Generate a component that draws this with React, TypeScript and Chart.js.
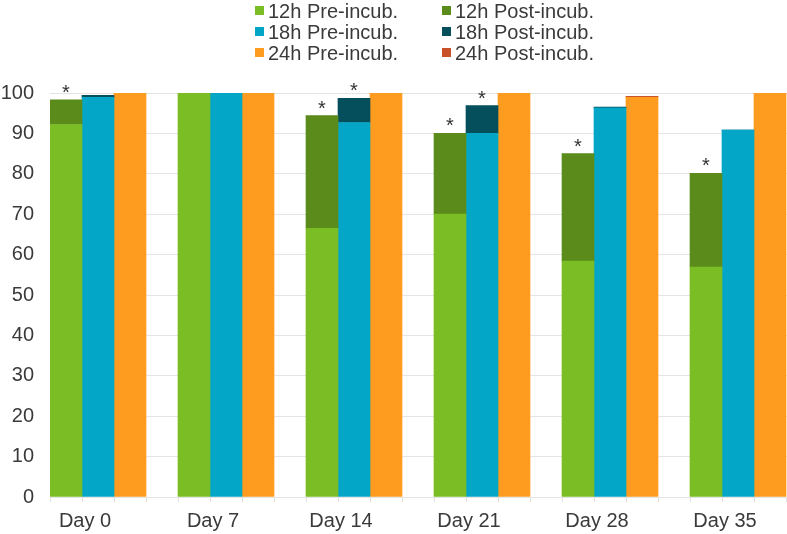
import React, { useEffect, useRef } from "react";
import { Chart, registerables } from "chart.js";

Chart.register(...registerables);

const categories = ["Day 0", "Day 7", "Day 14", "Day 21", "Day 28", "Day 35"];
const pre12 = [92.2, 100, 66.5, 70.0, 58.4, 56.9];
const post12 = [6.1, 0, 27.9, 20.0, 26.6, 23.2];
const pre18 = [98.9, 100, 92.7, 90.0, 96.3, 90.8];
const post18 = [0.5, 0, 6.0, 6.9, 0.2, 0];
const pre24 = [100, 100, 100, 100, 98.9, 100];
const post24 = [0, 0, 0, 0, 0.3, 0];
const star12 = [true, false, true, true, true, true];
const star18 = [false, false, true, true, false, false];
const yTicks = [0, 10, 20, 30, 40, 50, 60, 70, 80, 90, 100];

const seriesLabels = [
  "12h Pre-incub.",
  "12h Post-incub.",
  "18h Pre-incub.",
  "18h Post-incub.",
  "24h Pre-incub.",
  "24h Post-incub.",
];
const colors = ["#7abd25", "#5a8b1b", "#03a6c7", "#054f5d", "#fd9c1e", "#c9522b"];

const FONT = "'Liberation Sans', Arial, sans-serif";
const TEXT = "#3a3a3a";

const overlayPlugin = {
  id: "overlay",
  afterDraw(chart: any) {
    const ctx = chart.ctx;
    const x = chart.scales.x;
    const y = chart.scales.y;
    const area = chart.chartArea;
    ctx.save();
    // minor ticks under the axis at each bar slot edge
    const n = categories.length;
    const catW = (area.right - area.left) / n;
    ctx.strokeStyle = "#e2e2e2";
    ctx.lineWidth = 1;
    for (let i = 0; i < n; i++) {
      const c = x.getPixelForValue(i);
      for (let k = 0; k < 4; k++) {
        const px = Math.round(c - catW / 2 + (k * catW) / 4) + 0.5;
        ctx.beginPath();
        ctx.moveTo(px, area.bottom);
        ctx.lineTo(px, area.bottom + 5);
        ctx.stroke();
      }
    }
    // asterisks
    ctx.fillStyle = "#333";
    ctx.font = `20px ${FONT}`;
    ctx.textAlign = "center";
    ctx.textBaseline = "alphabetic";
    const m12 = chart.getDatasetMeta(0);
    const m18 = chart.getDatasetMeta(2);
    for (let i = 0; i < n; i++) {
      if (star12[i]) {
        const px = m12.data[i].x;
        const py = y.getPixelForValue(pre12[i] + post12[i]);
        ctx.fillText("*", px, py - 1);
      }
      if (star18[i]) {
        const px = m18.data[i].x;
        const py = y.getPixelForValue(pre18[i] + post18[i]);
        ctx.fillText("*", px, py - 1);
      }
    }
    // legend: two columns, three rows
    ctx.textAlign = "left";
    ctx.textBaseline = "middle";
    const colBox = [255, 442];
    const rowY = [11, 32, 53];
    for (let idx = 0; idx < seriesLabels.length; idx++) {
      const col = idx % 2;
      const row = Math.floor(idx / 2);
      ctx.fillStyle = colors[idx];
      ctx.fillRect(colBox[col], rowY[row] - 5, 9, 9);
      ctx.fillStyle = TEXT;
      ctx.fillText(seriesLabels[idx], colBox[col] + 13, rowY[row] + 1);
    }
    ctx.restore();
  },
};

export default function App() {
  const ref = useRef<HTMLCanvasElement | null>(null);
  useEffect(() => {
    if (!ref.current) return;
    const stacks = ["a", "a", "b", "b", "c", "c"];
    const values = [pre12, post12, pre18, post18, pre24, post24];
    const datasets: any[] = values.map((v, i) => ({
      label: seriesLabels[i],
      data: v,
      backgroundColor: colors[i],
      stack: stacks[i],
      borderWidth: 0,
      barPercentage: 1,
      categoryPercentage: 1,
    }));
    datasets.push({
      label: "",
      data: categories.map(() => 0),
      backgroundColor: "rgba(0,0,0,0)",
      stack: "d",
      borderWidth: 0,
      barPercentage: 1,
      categoryPercentage: 1,
    });
    const chart = new Chart(ref.current, {
      type: "bar",
      data: { labels: categories, datasets },
      options: {
        animation: false,
        responsive: false,
        layout: { padding: { top: 93, left: 0, right: 12, bottom: 0 } },
        plugins: {
          legend: { display: false },
          tooltip: { enabled: false },
        },
        scales: {
          x: {
            stacked: true,
            grid: { display: false, drawTicks: false },
            border: { display: false },
            ticks: {
              font: { family: FONT, size: 20 },
              color: TEXT,
              padding: 12,
              labelOffset: -29,
              maxRotation: 0,
              autoSkip: false,
            },
            afterFit: (s: any) => {
              s.height = 37;
            },
          },
          y: {
            stacked: true,
            min: 0,
            max: 100,
            afterBuildTicks: (s: any) => {
              s.ticks = yTicks.map((v) => ({ value: v }));
            },
            grid: { color: "#e4e4e4", drawTicks: false, lineWidth: 1 },
            border: { display: false },
            ticks: {
              font: { family: FONT, size: 20 },
              color: TEXT,
              padding: 16,
            },
            afterFit: (s: any) => {
              s.width = 50;
            },
          },
        },
      },
      plugins: [overlayPlugin],
    });
    return () => chart.destroy();
  }, []);
  return (
    <div
      style={{
        position: "fixed",
        left: 0,
        top: 0,
        width: 787,
        height: 534,
        overflow: "hidden",
        background: "#fff",
      }}
    >
      <canvas ref={ref} width={830} height={534} style={{ width: 830, height: 534, display: "block" }} />
    </div>
  );
}
